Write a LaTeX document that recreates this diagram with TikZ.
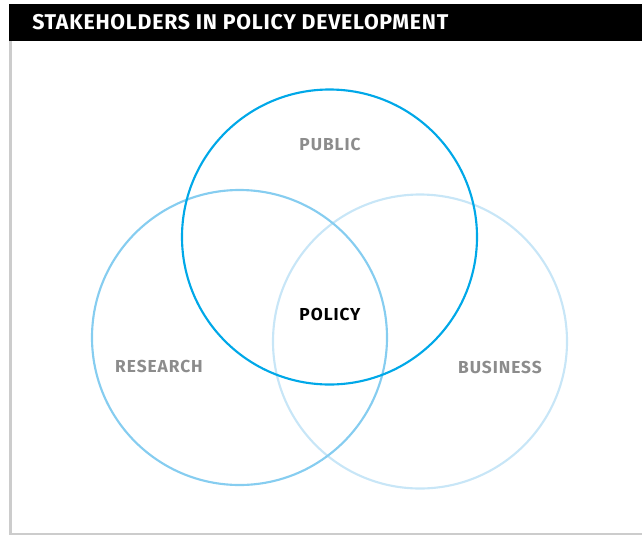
\documentclass[tikz,border=0pt]{standalone}
\usepackage{fontspec}
\setmainfont{Fira Sans}
\definecolor{publicblue}{HTML}{00A8E8}
\definecolor{researchblue}{HTML}{86CDF0}
\definecolor{businessblue}{HTML}{C8E6F7}
\definecolor{labelgray}{HTML}{8C8C8C}
\definecolor{framegray}{HTML}{CCCCCC}
\tikzset{
  ring/.style={draw=#1, line width=1.6pt},
  sectorlabel/.style={font=\bfseries\fontsize{13}{15}\selectfont\addfontfeatures{LetterSpace=5.5}, text=labelgray},
}
\begin{document}
\begin{tikzpicture}[x=0.75pt,y=-0.75pt]
  \useasboundingbox (0,0) rectangle (642,536);
  % frame
  \fill[framegray] (9,41) rectangle (12,535);
  \fill[framegray] (9,533) rectangle (642,535);
  % title bar
  \fill[black] (9,4) rectangle (642,41);
  \node[anchor=west, text=white, font=\bfseries\fontsize{16}{18}\selectfont\addfontfeatures{LetterSpace=3.5}, inner sep=0] (title) at (32,22.5) {STAKEHOLDERS IN POLICY DEVELOPMENT};
  % stakeholder circles
  \draw[ring=businessblue] (420,341.5) circle [radius=147];
  \draw[ring=researchblue] (239.5,337.5) circle [radius=147.5];
  \draw[ring=publicblue] (329.5,237) circle [radius=147.5];
  % labels
  \node[sectorlabel] (public) at (330,144) {PUBLIC};
  \node[sectorlabel] (research) at (159,366) {RESEARCH};
  \node[sectorlabel] (business) at (500,367) {BUSINESS};
  \node[sectorlabel, text=black] (policy) at (330,314) {POLICY};
\end{tikzpicture}
\end{document}
